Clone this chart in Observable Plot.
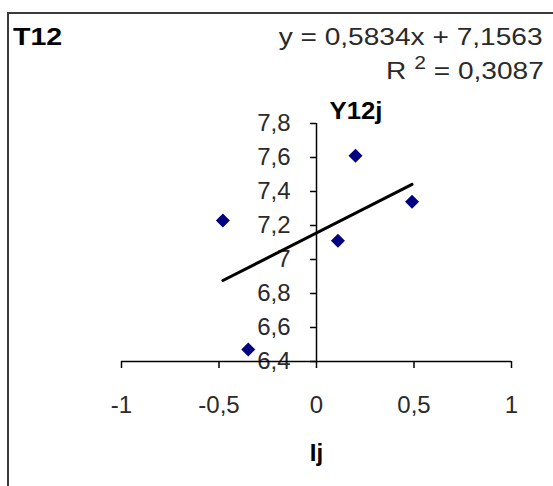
<!DOCTYPE html>
<html>
<head>
<meta charset="utf-8">
<script src="https://cdn.jsdelivr.net/npm/d3@7"></script>
<script src="https://cdn.jsdelivr.net/npm/@observablehq/plot@0.6"></script>
<style>
  body { margin: 0; background: #fff; }
  #chart { position: relative; width: 553px; height: 486px; overflow: hidden;
           font-family: Arial, "Liberation Sans", sans-serif; color: #2a2a2a; }
  #frame { position: absolute; left: 7px; top: 12px; width: 700px; height: 700px;
           border-left: 2px solid #3a3a3a; border-top: 2px solid #3a3a3a; pointer-events: none; }
  #head { position: relative; height: 90px; }
  .t { position: absolute; white-space: nowrap; line-height: 24px; font-size: 24px; }
  #title { left: 13px; top: 25px; font-weight: bold; color: #000;
           transform: scaleX(1.19); transform-origin: left center; }
  #eq { right: 10px; top: 25px; transform: scaleX(1.17); transform-origin: right center; }
  #r2 { right: 9px; top: 59px; transform: scaleX(1.17); transform-origin: right center; }
  #r2 sup { font-size: 18px; vertical-align: 10px; line-height: 0; }
  svg { display: block; }
</style>
</head>
<body>
<div id="chart">
  <div id="frame"></div>
  <div id="head">
    <div class="t" id="title"></div>
    <div class="t" id="eq"></div>
    <div class="t" id="r2"></div>
  </div>
</div>
<script>
// Panel title and axis titles
const panelTitle = "T12";
const xTitle = "Ij";
const yTitle = "Y12j";

// Axis ticks
const xTicks = [-1, -0.5, 0, 0.5, 1];
const yTicks = [6.4, 6.6, 6.8, 7.0, 7.2, 7.4, 7.6, 7.8];

// Observations
const ij   = [-0.48, -0.35, 0.11, 0.20, 0.49];
const y12j = [7.23, 6.47, 7.11, 7.61, 7.34];

// Linear trend fitted to the observations
const slope = 0.5834;
const intercept = 7.1563;
const rSquared = 0.3087;

const comma = v => String(v).replace(".", ",");
const fmtTick = v => comma(+v.toFixed(1));

document.getElementById("title").textContent = panelTitle;
document.getElementById("eq").textContent =
  `y = ${comma(slope)}x + ${comma(intercept)}`;
document.getElementById("r2").innerHTML =
  `R <sup>2</sup> = ${comma(rSquared)}`;

const points = ij.map((x, i) => ({x, y: y12j[i]}));
const xMin = d3.min(ij), xMax = d3.max(ij);
const trend = [xMin, xMax].map(x => ({x, y: slope * x + intercept}));

const yLo = yTicks[0], yHi = yTicks[yTicks.length - 1];
const xLo = xTicks[0], xHi = xTicks[xTicks.length - 1];

const plot = Plot.plot({
  width: 553,
  height: 396,
  marginLeft: 121,
  marginRight: 42,
  marginTop: 33,
  marginBottom: 125,
  x: {domain: [xLo, xHi], axis: null},
  y: {domain: [yLo, yHi], axis: null},
  style: {
    fontFamily: 'Arial, "Liberation Sans", sans-serif',
    fontSize: "24px",
    color: "#2a2a2a",
    background: "transparent",
    overflow: "visible"
  },
  marks: [
    // y tick labels, left of the vertical axis at x = 0
    Plot.text(yTicks, {x: 0, y: d => d, text: fmtTick, textAnchor: "end",
      lineAnchor: "middle", dx: -26, fill: "#2a2a2a"}),
    // x tick labels under the horizontal axis
    Plot.text(xTicks, {x: d => d, y: yLo, text: fmtTick, textAnchor: "middle",
      lineAnchor: "bottom", dy: 51, fill: "#2a2a2a"}),
    // axis titles
    Plot.text([yTitle], {x: 0, y: yHi, text: d => d, textAnchor: "start",
      lineAnchor: "bottom", dx: 13, dy: -5, fontWeight: "bold", fill: "#000",
      fontSize: 23, className: "ytitle"}),
    Plot.text([xTitle], {x: 0, y: yLo, text: d => d, textAnchor: "middle",
      lineAnchor: "bottom", dy: 99, fontWeight: "bold", fill: "#000"}),
    // axes crossing at (0, 6.4)
    Plot.ruleX([0], {y1: yLo, y2: yHi, stroke: "#000", strokeWidth: 1.5}),
    Plot.ruleY([yLo], {x1: xLo, x2: xHi, stroke: "#000", strokeWidth: 1.5}),
    // tick marks
    Plot.ruleY(yTicks, {y: d => d, x1: 0, x2: 0, insetLeft: -6, stroke: "#000", strokeWidth: 1.5}),
    Plot.ruleX(xTicks, {x: d => d, y1: yLo, y2: yLo, insetBottom: -7, stroke: "#000", strokeWidth: 1.5}),
    // trend line
    Plot.line(trend, {x: "x", y: "y", stroke: "#000", strokeWidth: 3}),
    // observations
    Plot.dot(points, {x: "x", y: "y", symbol: "diamond2", r: 6.3, fill: "#000080", stroke: "none"})
  ]
});

// widen the bold y-axis title a little
d3.select(plot).selectAll(".ytitle text")
  .attr("textLength", 53)
  .attr("lengthAdjust", "spacingAndGlyphs");

document.getElementById("chart").appendChild(plot);
</script>
</body>
</html>
